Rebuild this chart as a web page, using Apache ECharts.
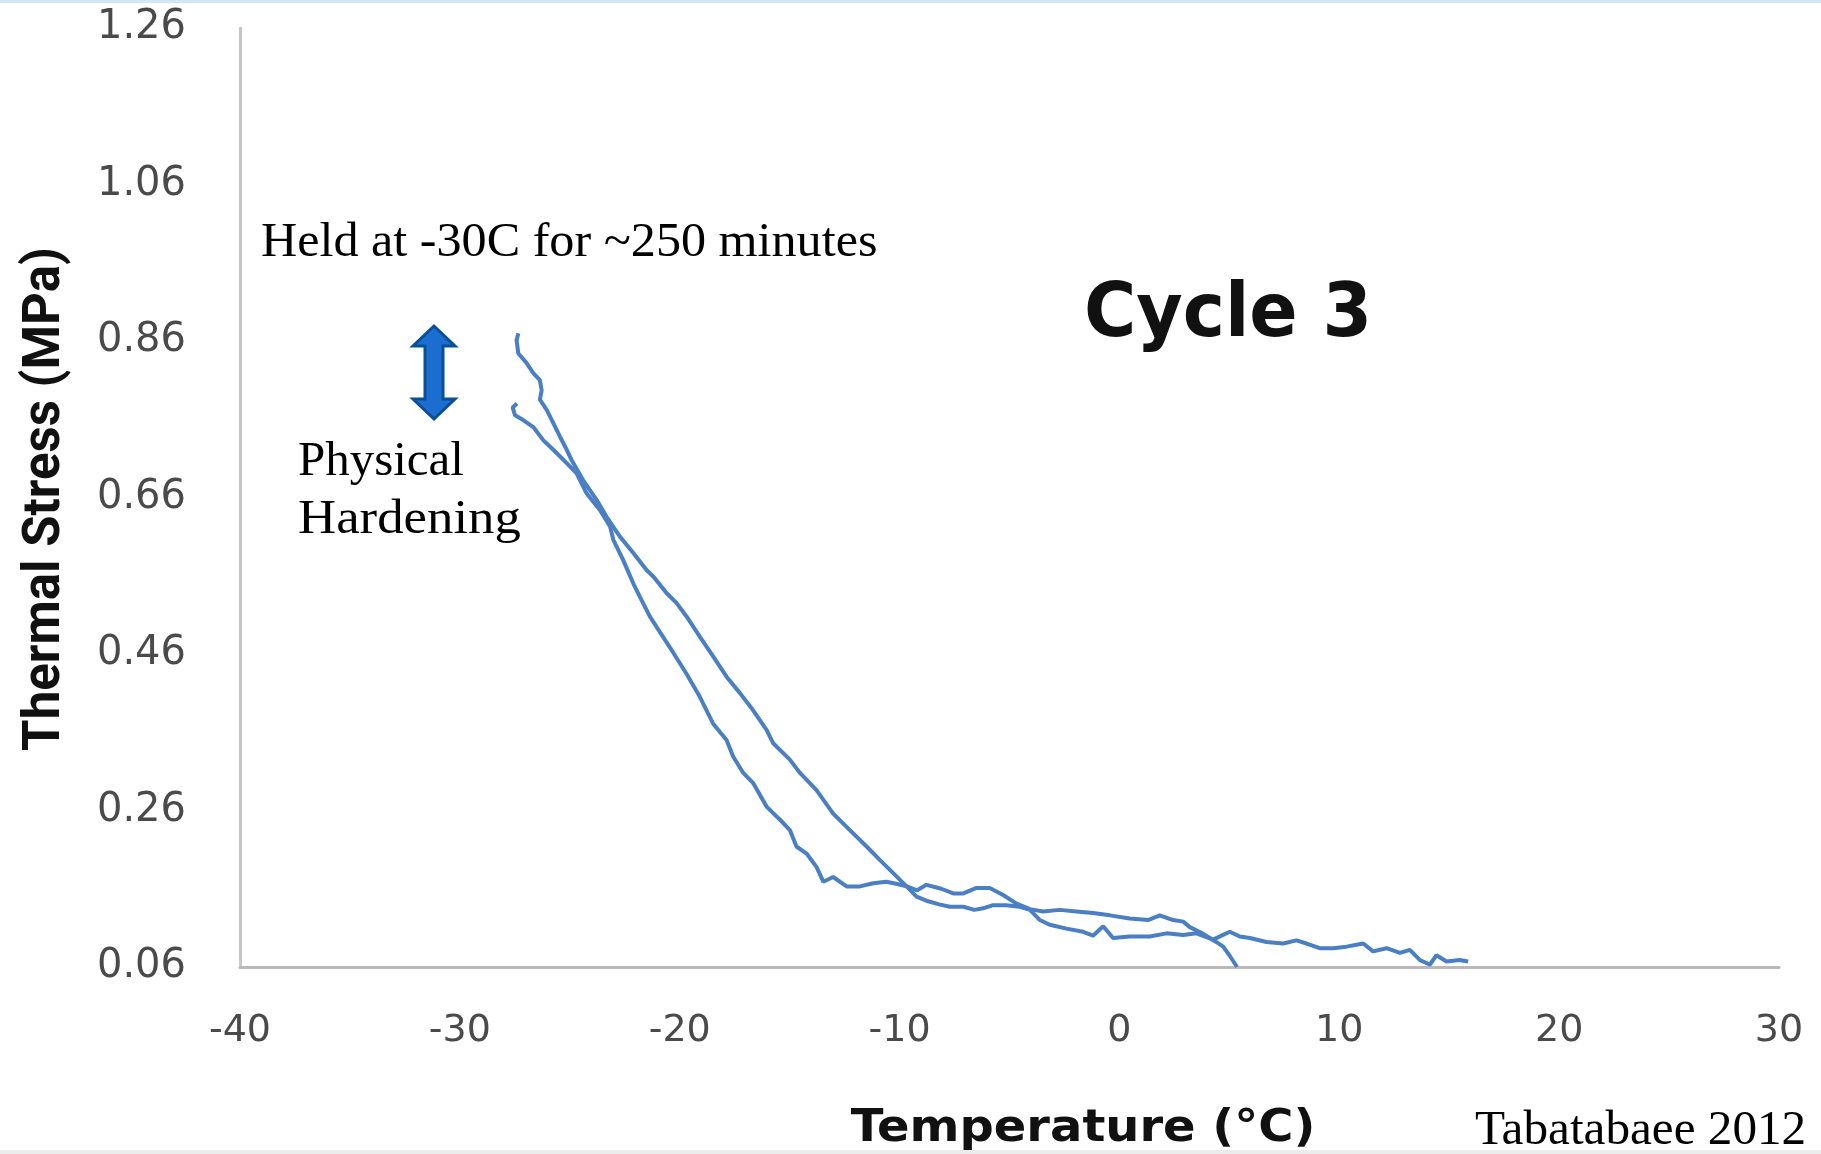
<!DOCTYPE html>
<html>
<head>
<meta charset="utf-8">
<script src="https://cdn.jsdelivr.net/npm/echarts@6/dist/echarts.min.js"></script>
<style>
html,body{margin:0;padding:0;background:#fff;}
#c{width:1821px;height:1154px;}
</style>
</head>
<body>
<div id="c"></div>
<script>
// ---- data ----
const xTicks = [-40, -30, -20, -10, 0, 10, 20, 30];
const yTicks = [0.06, 0.26, 0.46, 0.66, 0.86, 1.06, 1.26];

// cooling branch (temperature °C, thermal stress MPa)
const coolT = [5.35, 5.0, 4.72, 4.4, 4.11, 3.7, 3.2, 2.9, 2.44, 1.84, 1.3, 0.9, 0.47, -0.44, -1.2, -1.95, -2.71, -3.47, -4.07, -4.68, -5.29, -5.9, -6.5, -7.1, -7.56, -8.1, -8.78, -9.2, -9.68, -10.1, -10.6, -11.2, -11.8, -12.41, -13.02, -13.47, -13.78, -14.23, -14.69, -14.99, -15.29, -16.05, -16.66, -17.11, -17.57, -17.87, -18.48, -19.08, -19.7, -20.3, -20.9, -21.36, -21.81, -22.11, -22.57, -23.02, -23.17, -23.63, -24.23, -24.69, -25.14, -25.75, -26.2, -26.66, -27.12, -27.49, -27.6, -27.4];
const coolS = [0.060, 0.075, 0.086, 0.092, 0.097, 0.104, 0.111, 0.118, 0.120, 0.126, 0.120, 0.121, 0.122, 0.126, 0.129, 0.131, 0.133, 0.131, 0.134, 0.141, 0.152, 0.161, 0.161, 0.154, 0.154, 0.160, 0.165, 0.158, 0.163, 0.166, 0.169, 0.167, 0.163, 0.163, 0.175, 0.169, 0.188, 0.205, 0.214, 0.235, 0.244, 0.265, 0.295, 0.308, 0.329, 0.350, 0.371, 0.405, 0.435, 0.462, 0.488, 0.508, 0.533, 0.550, 0.580, 0.606, 0.623, 0.644, 0.665, 0.691, 0.704, 0.721, 0.733, 0.750, 0.759, 0.765, 0.775, 0.780];

// heating branch after the isothermal hold
const heatT = [-27.34, -27.42, -27.34, -26.97, -26.66, -26.36, -26.28, -26.36, -26.05, -25.75, -25.45, -25.14, -24.92, -24.39, -23.78, -23.32, -22.72, -22.11, -21.5, -21.2, -20.6, -20.14, -19.69, -19.08, -18.48, -17.87, -17.26, -16.66, -16.05, -15.75, -14.99, -14.53, -13.78, -13.02, -12.26, -11.5, -10.9, -10.29, -9.68, -9.23, -8.7, -8.2, -7.71, -7.1, -6.6, -6.2, -5.75, -5.14, -4.53, -4.07, -3.62, -3.17, -2.41, -1.65, -1.2, -0.74, -0.29, 0.47, 1.38, 2.14, 2.9, 3.5, 4.26, 5.02, 5.47, 5.93, 6.69, 7.45, 8.05, 8.51, 9.11, 9.72, 10.33, 11.09, 11.54, 12.15, 12.76, 13.21, 13.66, 14.12, 14.42, 14.88, 15.48, 15.86];
const heatS = [0.870, 0.861, 0.844, 0.832, 0.819, 0.810, 0.797, 0.785, 0.772, 0.755, 0.738, 0.721, 0.708, 0.682, 0.657, 0.635, 0.610, 0.589, 0.567, 0.559, 0.538, 0.525, 0.508, 0.482, 0.457, 0.431, 0.410, 0.388, 0.363, 0.346, 0.325, 0.308, 0.286, 0.256, 0.235, 0.214, 0.197, 0.180, 0.163, 0.150, 0.144, 0.140, 0.137, 0.137, 0.133, 0.135, 0.139, 0.139, 0.137, 0.133, 0.120, 0.114, 0.109, 0.105, 0.100, 0.112, 0.097, 0.099, 0.099, 0.103, 0.101, 0.103, 0.095, 0.105, 0.099, 0.097, 0.092, 0.090, 0.094, 0.090, 0.084, 0.084, 0.086, 0.090, 0.080, 0.084, 0.078, 0.082, 0.069, 0.063, 0.075, 0.067, 0.069, 0.067];

const yTitle = 'Thermal Stress (MPa)';
const xTitle = 'Temperature (°C)';
const chartTitle = 'Cycle 3';
const noteHold = 'Held at -30C for ~250 minutes';
const noteHard1 = 'Physical';
const noteHard2 = 'Hardening';
const source = 'Tabatabaee 2012';

// ---- chart ----
const zip = (a, b) => a.map((v, i) => [v, b[i]]);
const lineColor = '#4a7fc4';

function txt(text, x, y, font, o) {
  o = o || {};
  return {
    type: 'text', x: x, y: y,
    rotation: o.rotation || 0,
    scaleX: o.sx || 1, scaleY: o.sy || 1,
    silent: true,
    style: {
      text: text, font: font, fill: o.fill || '#000',
      align: o.align || 'left', verticalAlign: 'middle',
      textAlign: o.align || 'left', textVerticalAlign: 'middle'
    }
  };
}

const chart = echarts.init(document.getElementById('c'), null, {renderer: 'canvas'});
chart.setOption({
  animation: false,
  backgroundColor: '#ffffff',
  grid: {left: 240, right: 42, top: 28, bottom: 187, containLabel: false},
  xAxis: {
    type: 'value', min: xTicks[0], max: xTicks[xTicks.length - 1], interval: 10,
    axisLine: {show: true, onZero: false, lineStyle: {color: '#b9b9b9', width: 3}},
    axisTick: {show: false},
    splitLine: {show: false},
    axisLabel: {
      margin: 45, color: '#4a4a4a',
      fontFamily: 'DejaVu Sans', fontSize: 38,
      customValues: xTicks,
      formatter: v => String(v)
    }
  },
  yAxis: {
    type: 'value', min: yTicks[0], max: yTicks[yTicks.length - 1],
    axisLine: {show: true, onZero: false, lineStyle: {color: '#c6c6c6', width: 3}},
    axisTick: {show: false},
    splitLine: {show: false},
    axisLabel: {
      margin: 54, color: '#4a4a4a',
      fontFamily: 'DejaVu Sans', fontSize: 40,
      padding: [8, 0, 0, 0],
      customValues: yTicks,
      formatter: v => Number(v).toFixed(2)
    }
  },
  series: [
    {name: 'Cooling', type: 'line', data: zip(coolT, coolS), showSymbol: false, smooth: false,
     lineStyle: {color: lineColor, width: 4}, itemStyle: {color: lineColor}},
    {name: 'Heating', type: 'line', data: zip(heatT, heatS), showSymbol: false, smooth: false,
     lineStyle: {color: lineColor, width: 4}, itemStyle: {color: lineColor}}
  ],
  graphic: [
    {type: 'rect', shape: {x: 0, y: 0, width: 1821, height: 3}, style: {fill: '#d4e5f6'}, silent: true},
    {type: 'rect', shape: {x: 0, y: 1150, width: 1821, height: 4}, style: {fill: '#ececec'}, silent: true},
    txt(yTitle, 46, 499, 'bold 51px Roboto', {rotation: Math.PI / 2, align: 'center', fill: '#111'}),
    txt(xTitle, 1083, 1130, 'bold 44px "DejaVu Sans"', {align: 'center', sx: 1.09, fill: '#111'}),
    txt(chartTitle, 1228, 317, 'bold 75px "DejaVu Sans"', {align: 'center', sx: 0.95, fill: '#111'}),
    txt(noteHold, 261, 243, '48px "Liberation Serif"', {sx: 1.045}),
    txt(noteHard1, 298, 462, '48px "Liberation Serif"', {sx: 1.02}),
    txt(noteHard2, 298, 520, '48px "Liberation Serif"', {sx: 1.1}),
    txt(source, 1475, 1131, '48px "Liberation Serif"', {sx: 1.025}),
    {
      type: 'polygon', silent: true,
      shape: {points: [[434, 326], [455, 346], [443, 346], [443, 399], [455, 399], [434, 419], [413, 399], [425, 399], [425, 346], [413, 346]]},
      style: {fill: '#1b6ecf', stroke: '#0b4e98', lineWidth: 3, lineJoin: 'miter'}
    }
  ]
});
</script>
</body>
</html>
